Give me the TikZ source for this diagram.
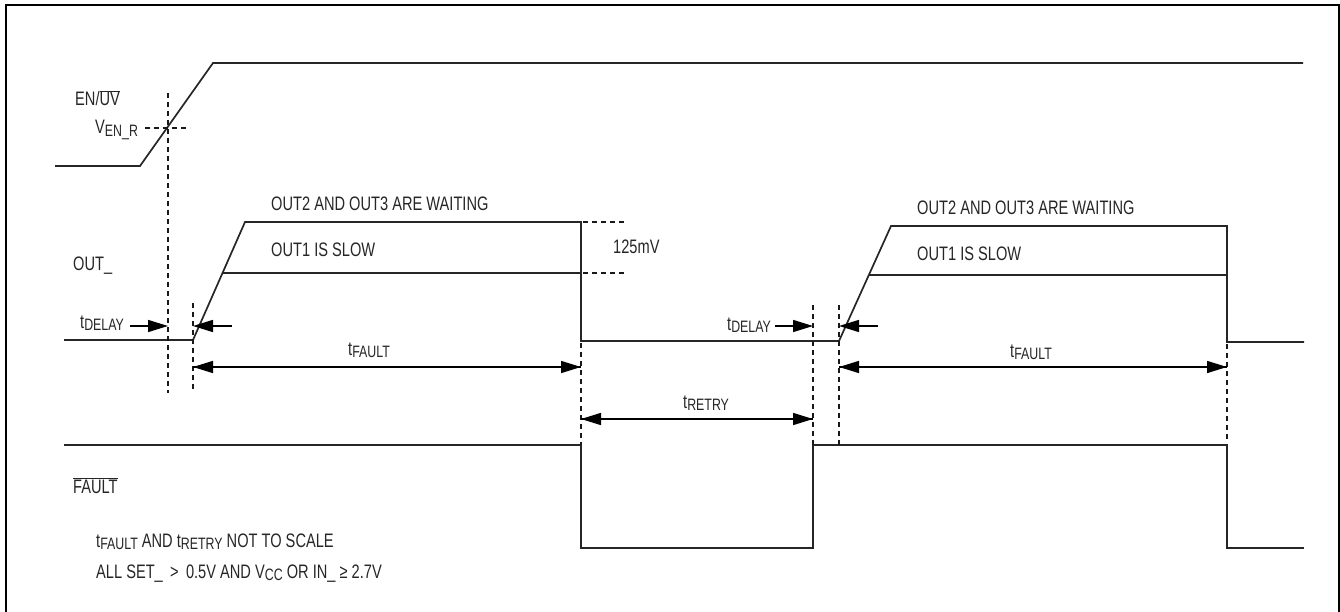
\documentclass[tikz,border=0pt]{standalone}
\usepackage{fontspec}
\setmainfont{Liberation Sans}[FakeStretch=0.75]
\usetikzlibrary{arrows.meta}
\newcommand{\sbs}[1]{\raisebox{-2.5pt}{\fontsize{16.5}{18}\selectfont #1}}
\newcommand{\ovl}[1]{$\overline{\mbox{#1}}$}
\tikzset{
  sig/.style={draw=black!85, line width=1.7pt, line join=miter},
  dsh/.style={draw=black!90, line width=1.5pt, dash pattern=on 5pt off 4pt},
  dim/.style={draw=black, line width=1.5pt},
  tip/.style={-{Triangle[length=20pt,width=12pt]}},
  lbl/.style={anchor=base west, inner sep=0pt, text=black!85, font=\fontsize{19.5}{22}\selectfont},
}
\begin{document}
\begin{tikzpicture}[x=1pt,y=-1pt]
\useasboundingbox (0,0) rectangle (1340,612);
% frame
\draw[line width=2.2pt] (6,613) -- (6,5) -- (1339,5) -- (1339,613);

% EN/UV waveform
\draw[sig] (55,166) -- (140,166) -- (213,63) -- (1303,63);
% OUT_ waveform
\draw[sig] (64,340) -- (193,340) -- (245,222) -- (581,222) -- (581,341) -- (839,341) -- (891,226) -- (1227,226) -- (1227,342) -- (1304,342);
\draw[sig] (222,273) -- (581,273);
\draw[sig] (869,275) -- (1227,275);
% FAULT waveform
\draw[sig] (64,445) -- (581,445) -- (581,548) -- (813,548) -- (813,445) -- (1227,445) -- (1227,548) -- (1304,548);

% dashed guides
\draw[dsh] (168,93) -- (168,393);
\draw[dsh] (145,128) -- (190,128);
\draw[dsh] (193,303) -- (193,392);
\draw[dsh] (581,343) -- (581,445);
\draw[dsh] (583,222) -- (625,222);
\draw[dsh] (583,273) -- (625,273);
\draw[dsh] (813,305) -- (813,445);
\draw[dsh] (839,305) -- (839,445);
\draw[dsh] (1227,344) -- (1227,441);

% dimension coordinates
\coordinate (d1s) at (130,326); \coordinate (d1e) at (168,326);
\coordinate (d2s) at (232,326); \coordinate (d2e) at (193,326);
\coordinate (f1a) at (193,367); \coordinate (f1b) at (581,367);
\coordinate (r1a) at (581,419); \coordinate (r1b) at (813,419);
\coordinate (d3s) at (775,326); \coordinate (d3e) at (813,326);
\coordinate (d4s) at (878,326); \coordinate (d4e) at (839,326);
\coordinate (f2a) at (839,367); \coordinate (f2b) at (1227,367);

\draw[dim,tip] (d1s) -- (d1e);
\draw[dim,tip] (d2s) -- (d2e);
\draw[dim,tip] (f1a) -- (f1b);
\draw[dim,tip] (f1b) -- (f1a);
\draw[dim,tip] (r1a) -- (r1b);
\draw[dim,tip] (r1b) -- (r1a);
\draw[dim,tip] (d3s) -- (d3e);
\draw[dim,tip] (d4s) -- (d4e);
\draw[dim,tip] (f2a) -- (f2b);
\draw[dim,tip] (f2b) -- (f2a);

% labels
\node[lbl] (en) at (75,106) {EN/\ovl{UV}};
\node[lbl] (venr) at (95,134) {V\sbs{EN\_R}};
\node[lbl] (out) at (73,270) {OUT\_};
\node[lbl] (td1) at (80,328) {t\sbs{DELAY}};
\node[lbl] (tf1) at (348,355) {t\sbs{FAULT}};
\node[lbl] (w1) at (271,211) {OUT2 AND OUT3 ARE WAITING};
\node[lbl] (s1) at (271,257) {OUT1 IS SLOW};
\node[lbl] (mv) at (613,254) {125mV};
\node[lbl] (tr) at (683,408) {t\sbs{RETRY}};
\node[lbl] (td2) at (727,330) {t\sbs{DELAY}};
\node[lbl] (w2) at (917,215) {OUT2 AND OUT3 ARE WAITING};
\node[lbl] (s2) at (917,260) {OUT1 IS SLOW};
\node[lbl] (tf2) at (1010,357) {t\sbs{FAULT}};
\node[lbl] (flt) at (73,493) {\ovl{FAULT}};
\node[lbl] (n1) at (96,547) {t\sbs{FAULT} AND t\sbs{RETRY} NOT TO SCALE};
\node[lbl] (n2) at (96,578) {ALL SET\_ \,>\, 0.5V AND V\sbs{CC} OR IN\_ ≥ 2.7V};
\end{tikzpicture}
\end{document}
